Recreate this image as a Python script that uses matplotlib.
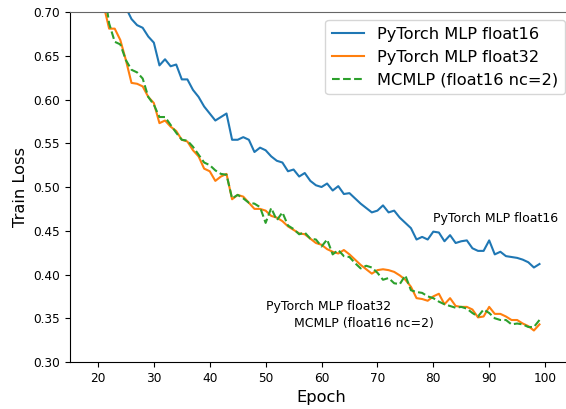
import matplotlib
matplotlib.use('Agg')
import matplotlib.pyplot as plt

epochs = list(range(20, 100))

loss_fp16 = [0.760, 0.750, 0.740, 0.728, 0.716, 0.705, 0.692, 0.685, 0.682, 0.672,
             0.665, 0.639, 0.646, 0.638, 0.640, 0.623, 0.623, 0.611, 0.603, 0.592,
             0.584, 0.576, 0.580, 0.584, 0.554, 0.554, 0.557, 0.554, 0.540, 0.545,
             0.542, 0.535, 0.530, 0.528, 0.518, 0.520, 0.512, 0.516, 0.507, 0.502,
             0.500, 0.504, 0.496, 0.501, 0.492, 0.493, 0.487, 0.481, 0.476, 0.471,
             0.473, 0.479, 0.471, 0.473, 0.465, 0.459, 0.453, 0.440, 0.443, 0.440,
             0.449, 0.448, 0.438, 0.445, 0.436, 0.438, 0.439, 0.430, 0.427, 0.427,
             0.439, 0.423, 0.426, 0.421, 0.420, 0.419, 0.417, 0.414, 0.408, 0.412]

loss_fp32 = [0.730, 0.708, 0.681, 0.681, 0.668, 0.645, 0.619, 0.618, 0.615, 0.603,
             0.596, 0.573, 0.576, 0.569, 0.564, 0.554, 0.552, 0.542, 0.535, 0.521,
             0.518, 0.507, 0.512, 0.515, 0.486, 0.491, 0.489, 0.482, 0.475, 0.475,
             0.473, 0.467, 0.465, 0.461, 0.455, 0.451, 0.447, 0.446, 0.441, 0.436,
             0.434, 0.429, 0.426, 0.424, 0.428, 0.423, 0.417, 0.411, 0.406, 0.401,
             0.405, 0.406, 0.405, 0.403, 0.399, 0.394, 0.386, 0.373, 0.372, 0.370,
             0.375, 0.378, 0.366, 0.373, 0.364, 0.363, 0.363, 0.360, 0.351, 0.352,
             0.363, 0.355, 0.355, 0.352, 0.348, 0.348, 0.344, 0.341, 0.336, 0.343]

loss_mcmlp = [0.750, 0.730, 0.687, 0.666, 0.663, 0.645, 0.634, 0.631, 0.624, 0.603,
              0.594, 0.580, 0.580, 0.571, 0.562, 0.554, 0.553, 0.546, 0.537, 0.528,
              0.525, 0.519, 0.515, 0.514, 0.487, 0.491, 0.487, 0.482, 0.481, 0.477,
              0.459, 0.476, 0.462, 0.471, 0.456, 0.452, 0.446, 0.448, 0.441, 0.440,
              0.432, 0.440, 0.423, 0.428, 0.421, 0.420, 0.413, 0.407, 0.410, 0.408,
              0.402, 0.394, 0.396, 0.390, 0.389, 0.399, 0.382, 0.380, 0.379, 0.375,
              0.373, 0.369, 0.366, 0.364, 0.362, 0.363, 0.361, 0.356, 0.352, 0.360,
              0.356, 0.350, 0.348, 0.348, 0.343, 0.344, 0.343, 0.340, 0.340, 0.348]

labels = ['PyTorch MLP float16', 'PyTorch MLP float32', 'MCMLP (float16 nc=2)']

fig = plt.figure(figsize=(5.66, 4.09), dpi=100)
# axes run a little past the right edge of the picture, like the reference crop
ax = fig.add_axes([0.1237, 0.1149, 0.8887, 0.8557])

ax.plot(epochs, loss_fp16, color='#1f77b4', lw=1.5, label=labels[0])
ax.plot(epochs, loss_fp32, color='#ff7f0e', lw=1.5, label=labels[1])
ax.plot(epochs, loss_mcmlp, '--', color='#2ca02c', lw=1.5, label=labels[2])

# labels next to the curves
ax.text(80, 0.46, labels[0], fontsize=9)
ax.text(50, 0.36, labels[1], fontsize=9)
ax.text(55, 0.34, labels[2], fontsize=9)

ax.set_xlim(15, 105)
ax.set_ylim(0.30, 0.70)
ax.set_xticks(range(20, 101, 10))
ax.set_yticks([0.30, 0.35, 0.40, 0.45, 0.50, 0.55, 0.60, 0.65, 0.70])
ax.tick_params(labelsize=8.7)
ax.set_xlabel('Epoch', fontsize=11.7)
ax.set_ylabel('Train Loss', fontsize=11.7)
ax.spines['top'].set_color('0.4')
ax.spines['right'].set_visible(False)
ax.legend(loc='upper right', fontsize=11.7)

fig.savefig('out.png', dpi=100)
